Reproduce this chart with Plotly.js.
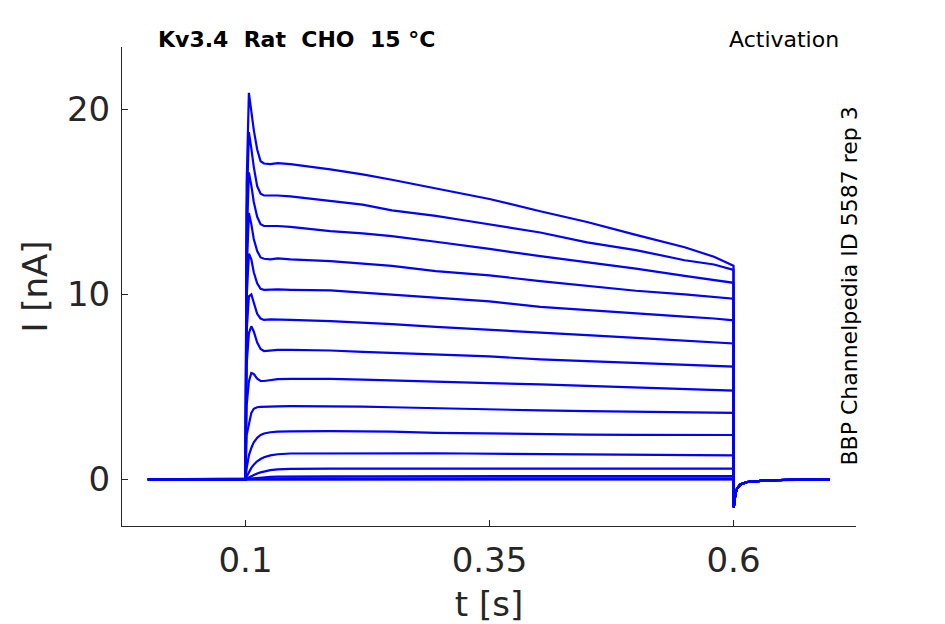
<!DOCTYPE html>
<html>
<head>
<meta charset="utf-8">
<script src="https://cdn.plot.ly/plotly-3.0.1.min.js"></script>
<style>html,body{margin:0;padding:0;background:#fff;}#plot{width:945px;height:624px;}</style>
</head>
<body>
<div id="plot"></div>
<script>
// Time points (s), shared by all sweeps during the step
const stepTime = [0, 0.1, 0.1012, 0.1035, 0.106, 0.1085, 0.112, 0.1155, 0.119, 0.1255, 0.133, 0.146,
                  0.187, 0.22, 0.25, 0.295, 0.325, 0.35, 0.402, 0.45, 0.5, 0.55, 0.58, 0.6];
// Tail after the step (s) and current (nA)
const tailTime = [0.6003, 0.601, 0.602, 0.6037, 0.607, 0.614, 0.634, 0.66, 0.6985];
const tailCurrent = [-1.5, -1.05, -0.75, -0.5, -0.27, -0.14, -0.05, -0.02, 0];

// Current (nA) of each sweep at stepTime
const sweep1  = [0, 0, 16.0, 20.9, 19.9, 18.9, 17.84, 17.2, 17.08, 17.05, 17.1, 17.05, 16.76, 16.49, 16.2, 15.74, 15.41, 15.16, 14.5, 13.92, 13.22, 12.55, 12.04, 11.55];
const sweep2  = [0, 0, 14.5, 18.77, 17.9, 16.9, 15.85, 15.45, 15.35, 15.35, 15.35, 15.3, 15.04, 14.86, 14.55, 14.25, 14.0, 13.78, 13.35, 12.82, 12.4, 11.85, 11.62, 11.33];
const sweep3  = [0, 0, 12.8, 16.6, 15.9, 15.0, 14.2, 13.8, 13.7, 13.7, 13.7, 13.65, 13.42, 13.3, 13.15, 12.85, 12.62, 12.46, 12.07, 11.75, 11.4, 11.0, 10.8, 10.63];
const sweep4  = [0, 0, 11.2, 14.4, 13.8, 13.0, 12.35, 12.0, 11.93, 11.9, 11.95, 11.9, 11.8, 11.66, 11.55, 11.26, 11.13, 11.03, 10.72, 10.45, 10.2, 10.0, 9.88, 9.77];
const sweep5  = [0, 0, 9.8, 12.2, 11.9, 11.2, 10.6, 10.3, 10.25, 10.27, 10.27, 10.25, 10.22, 10.1, 10.0, 9.82, 9.72, 9.63, 9.33, 9.15, 8.95, 8.8, 8.7, 8.6];
const sweep6  = [0, 0, 8.0, 9.9, 10.0, 9.5, 8.95, 8.7, 8.62, 8.65, 8.65, 8.62, 8.56, 8.48, 8.4, 8.25, 8.17, 8.1, 7.93, 7.8, 7.65, 7.5, 7.42, 7.35];
const sweep7  = [0, 0, 6.2, 7.9, 8.28, 8.0, 7.4, 7.05, 6.94, 6.98, 7.0, 7.0, 6.97, 6.9, 6.85, 6.76, 6.7, 6.65, 6.49, 6.4, 6.3, 6.2, 6.15, 6.1];
const sweep8  = [0, 0, 4.0, 5.3, 5.75, 5.7, 5.45, 5.33, 5.32, 5.38, 5.42, 5.43, 5.44, 5.4, 5.35, 5.28, 5.24, 5.2, 5.14, 5.05, 4.97, 4.88, 4.84, 4.8];
const sweep9  = [0, 0, 2.4, 3.0, 3.6, 3.82, 3.9, 3.92, 3.93, 3.94, 3.95, 3.96, 3.96, 3.93, 3.9, 3.84, 3.81, 3.78, 3.73, 3.69, 3.66, 3.63, 3.61, 3.6];
const sweep10 = [0, 0, 0.6, 1.3, 1.7, 2.0, 2.25, 2.4, 2.48, 2.55, 2.58, 2.6, 2.61, 2.6, 2.58, 2.52, 2.5, 2.48, 2.43, 2.42, 2.41, 2.4, 2.4, 2.4];
const sweep11 = [0, 0, 0.15, 0.4, 0.62, 0.8, 0.98, 1.1, 1.2, 1.3, 1.36, 1.4, 1.41, 1.41, 1.41, 1.41, 1.4, 1.39, 1.37, 1.35, 1.33, 1.32, 1.31, 1.3];
const sweep12 = [0, 0, 0.03, 0.1, 0.17, 0.24, 0.32, 0.38, 0.43, 0.5, 0.54, 0.57, 0.58, 0.59, 0.59, 0.58, 0.58, 0.58, 0.58, 0.58, 0.58, 0.58, 0.58, 0.58];
const sweep13 = [0, 0, 0.01, 0.02, 0.04, 0.06, 0.08, 0.1, 0.12, 0.14, 0.15, 0.16, 0.16, 0.17, 0.17, 0.17, 0.17, 0.17, 0.17, 0.18, 0.18, 0.18, 0.18, 0.18];
const sweep14 = [0, 0, 0, 0.01, 0.01, 0.02, 0.02, 0.03, 0.03, 0.04, 0.04, 0.05, 0.05, 0.05, 0.05, 0.05, 0.05, 0.05, 0.05, 0.05, 0.05, 0.05, 0.05, 0.05];
const sweep15 = [0, 0, 0, 0, 0, 0, 0.01, 0.01, 0.01, 0.01, 0.02, 0.02, 0.02, 0.02, 0.02, 0.02, 0.02, 0.02, 0.02, 0.02, 0.02, 0.02, 0.02, 0.02];
const sweep16 = [0, 0, 0, 0, 0, 0, 0, 0, 0, 0, 0, 0, 0, 0, 0, 0, 0, 0, 0, 0, 0, 0, 0, 0];
const sweeps = [sweep16, sweep15, sweep14, sweep13, sweep12, sweep11, sweep10, sweep9, sweep8,
                sweep7, sweep6, sweep5, sweep4, sweep3, sweep2, sweep1];

const xTickVals = [0.1, 0.35, 0.6];
const xTickText = ['0.1', '0.35', '0.6'];
const yTickVals = [0, 10, 20];
const yTickText = ['0', '10', '20'];

const titleLeft = 'Kv3.4  Rat  CHO  15 °C';
const titleRight = 'Activation';
const sideNote = 'BBP Channelpedia ID 5587 rep 3';

const traces = sweeps.map(s => ({
  type: 'scatter', mode: 'lines',
  x: stepTime.concat(tailTime),
  y: s.concat(tailCurrent),
  line: {color: '#0000ff', width: 2.2},
  hoverinfo: 'skip', showlegend: false
}));

const axisColor = '#262626';
const layout = {
  width: 945, height: 624,
  margin: {l: 122, r: 89, t: 47, b: 98},
  paper_bgcolor: '#ffffff', plot_bgcolor: '#ffffff',
  font: {family: 'DejaVu Sans', color: axisColor},
  showlegend: false,
  xaxis: {
    range: [-0.0265, 0.7255], tickmode: 'array', tickvals: xTickVals, ticktext: xTickText,
    ticks: 'inside', ticklen: 6, tickcolor: axisColor, tickwidth: 1,
    showline: true, linecolor: axisColor, linewidth: 1, mirror: false,
    showgrid: false, zeroline: false, ticklabelstandoff: 4,
    tickfont: {family: 'DejaVu Sans', size: 34, color: axisColor},
    title: {text: 't [s]', font: {family: 'DejaVu Sans', size: 34, color: axisColor}, standoff: 14}
  },
  yaxis: {
    range: [-2.52, 23.38], tickmode: 'array', tickvals: yTickVals, ticktext: yTickText,
    ticks: 'inside', ticklen: 6, tickcolor: axisColor, tickwidth: 1,
    showline: true, linecolor: axisColor, linewidth: 1, mirror: false,
    showgrid: false, zeroline: false, ticklabelstandoff: 4,
    tickfont: {family: 'DejaVu Sans', size: 34, color: axisColor},
    title: {text: 'I [nA]', font: {family: 'DejaVu Sans', size: 34, color: axisColor}, standoff: 9}
  },
  annotations: [
    {text: '<b>' + titleLeft + '</b>', xref: 'paper', yref: 'paper', x: 0.047, y: 1.016,
     xanchor: 'left', yanchor: 'middle', showarrow: false,
     font: {family: 'DejaVu Sans', size: 22, color: '#000000'}},
    {text: titleRight, xref: 'paper', yref: 'paper', x: 0.9795, y: 1.016,
     xanchor: 'right', yanchor: 'middle', showarrow: false,
     font: {family: 'DejaVu Sans', size: 22, color: '#000000'}},
    {text: sideNote, xref: 'paper', yref: 'paper', x: 0.9918, y: 0.502,
     xanchor: 'center', yanchor: 'middle', textangle: -90, showarrow: false,
     font: {family: 'DejaVu Sans', size: 22, color: '#000000'}}
  ]
};

Plotly.newPlot('plot', traces, layout, {displayModeBar: false, staticPlot: true});
</script>
</body>
</html>
